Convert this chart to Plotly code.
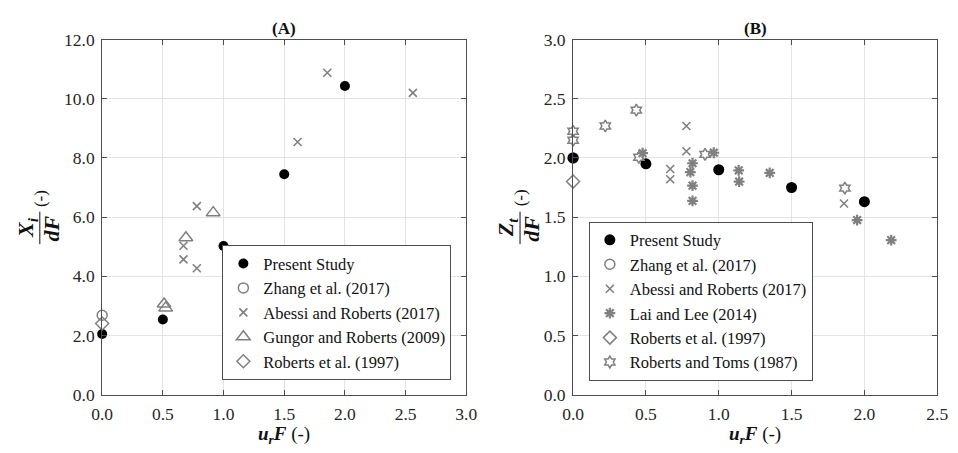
import plotly.graph_objects as go

W, H = 958, 453

# ---------------- Panel (A): X_i / dF against u_r F ----------------
a_present_x = [0.0, 0.5, 1.0, 1.5, 2.0]
a_present_y = [2.05, 2.54, 5.02, 7.45, 10.43]
a_zhang_x = [0.0]
a_zhang_y = [2.68]
a_abessi_x = [0.67, 0.67, 0.78, 0.78, 1.61, 1.855, 2.56]
a_abessi_y = [5.03, 4.57, 6.37, 4.27, 8.54, 10.88, 10.20]
a_gungor_x = [0.51, 0.523, 0.69, 0.915]
a_gungor_y = [3.06, 2.93, 5.30, 6.15]
a_roberts97_x = [0.0]
a_roberts97_y = [2.40]

# ---------------- Panel (B): Z_t / dF against u_r F ----------------
b_present_x = [0.0, 0.5, 1.0, 1.5, 2.0]
b_present_y = [2.00, 1.95, 1.90, 1.75, 1.63]
b_zhang_x = [0.0]
b_zhang_y = [2.00]
b_abessi_x = [0.667, 0.667, 0.778, 0.778, 1.86]
b_abessi_y = [1.906, 1.82, 2.27, 2.057, 1.615]
b_lai_x = [0.477, 0.82, 0.805, 0.82, 0.82, 0.966, 1.137, 1.14, 1.35, 1.95, 2.184]
b_lai_y = [2.04, 1.955, 1.88, 1.766, 1.637, 2.044, 1.895, 1.80, 1.874, 1.475, 1.305]
b_roberts97_x = [0.0]
b_roberts97_y = [1.80]
b_toms_x = [0.0, 0.0, 0.221, 0.434, 0.452, 0.906, 1.866]
b_toms_y = [2.226, 2.15, 2.27, 2.404, 2.005, 2.03, 1.745]

SERIF = "Liberation Serif"
GRAY = "#808080"
BLACK = "#000000"


def px(x):
    return x / W


def py(y):
    return 1 - y / H


def series(x, y, name, symbol, size, color, axis, legend, lw=1.5, rank=None):
    xa, ya = ("x", "y") if axis == 1 else ("x2", "y2")
    tr = go.Scatter(
        x=x, y=y, name=name, mode="markers",
        xaxis=xa, yaxis=ya, legend=legend, cliponaxis=False,
        marker=dict(symbol=symbol, size=size, color=color,
                    line=dict(color=color, width=lw)),
    )
    if rank is not None:
        tr.legendrank = rank
    return tr


fig = go.Figure()

# Panel A traces
fig.add_trace(series(a_present_x, a_present_y, "Present Study", "circle", 10, BLACK, 1, "legend", 0))
fig.add_trace(series(a_zhang_x, a_zhang_y, "Zhang et al. (2017)", "circle-open", 10, GRAY, 1, "legend"))
fig.add_trace(series(a_abessi_x, a_abessi_y, "Abessi and Roberts (2017)", "x-thin-open", 8, GRAY, 1, "legend", 1.6))
fig.add_trace(series(a_gungor_x, a_gungor_y, "Gungor and Roberts (2009)", "triangle-up-open", 12, GRAY, 1, "legend"))
fig.add_trace(series(a_roberts97_x, a_roberts97_y, "Roberts et al. (1997)", "diamond-open", 10, GRAY, 1, "legend"))

# Panel B traces (Zhang drawn first so the present-study dot sits on top)
fig.add_trace(series(b_zhang_x, b_zhang_y, "Zhang et al. (2017)", "circle-open", 10, GRAY, 2, "legend2", rank=2))
fig.add_trace(series(b_present_x, b_present_y, "Present Study", "circle", 11, BLACK, 2, "legend2", 0, rank=1))
fig.add_trace(series(b_abessi_x, b_abessi_y, "Abessi and Roberts (2017)", "x-thin-open", 8, GRAY, 2, "legend2", 1.6, rank=3))
fig.add_trace(series(b_lai_x, b_lai_y, "Lai and Lee (2014)", "asterisk-open", 9, GRAY, 2, "legend2", 2.2, rank=4))
fig.add_trace(series(b_roberts97_x, b_roberts97_y, "Roberts et al. (1997)", "diamond-open", 10, GRAY, 2, "legend2", rank=5))
fig.add_trace(series(b_toms_x, b_toms_y, "Roberts and Toms (1987)", "hexagram-open", 9, GRAY, 2, "legend2", rank=6))

# Plot-area pixel boxes
A_L, A_R = 93.3, 466.0
B_L, B_R = 575.3, 948.0
TOP, BOT = 31.0, 402.3

axis_common = dict(
    showline=True, linecolor="#4d4d4d", linewidth=1, mirror="ticks",
    ticks="inside", ticklen=5, tickcolor="#4d4d4d", tickwidth=1,
    showgrid=True, gridcolor="#e3e3e3", gridwidth=1, zeroline=False,
    tickfont=dict(family=SERIF, size=17.5, color="#262626"),
    tickformat=".1f", fixedrange=True,
)
xaxis_extra = dict(ticklabelstandoff=3)
yaxis_extra = dict(ticklabelstandoff=3)

legend_common = dict(
    xanchor="right", yanchor="bottom",
    bgcolor="white", bordercolor="#4d4d4d", borderwidth=1,
    font=dict(family=SERIF, size=16.5, color="#111"),
    tracegroupgap=0, traceorder="normal",
    itemclick=False, itemdoubleclick=False,
)

fig.update_layout(
    width=W, height=H, margin=dict(l=0, r=0, t=0, b=0),
    paper_bgcolor="white", plot_bgcolor="white",
    font=dict(family=SERIF, color="#262626"),
    xaxis=dict(domain=[px(A_L), px(A_R)], range=[0, 3], tick0=0, dtick=0.5,
               anchor="y", **axis_common, **xaxis_extra),
    yaxis=dict(domain=[py(BOT), py(TOP)], range=[0, 12], tick0=0, dtick=2,
               anchor="x", **axis_common, **yaxis_extra),
    xaxis2=dict(domain=[px(B_L), px(B_R)], range=[0, 2.5], tick0=0, dtick=0.5,
                anchor="y2", **axis_common, **xaxis_extra),
    yaxis2=dict(domain=[py(BOT), py(TOP)], range=[0, 3], tick0=0, dtick=0.5,
                anchor="x2", **axis_common, **yaxis_extra),
    legend=dict(x=px(450.7), y=py(387.3), **legend_common),
    legend2=dict(x=px(820.7), y=py(387.7), **legend_common),
    showlegend=True,
)

annotations = []
shapes = []


def text(x, y, s, size, angle=0, color="#111"):
    annotations.append(dict(
        x=px(x), y=py(y), xref="paper", yref="paper", text=s, showarrow=False,
        xanchor="center", yanchor="middle", textangle=angle,
        font=dict(family=SERIF, size=size, color=color),
    ))


# Panel titles
text((A_L + A_R) / 2, 19, "<b>(A)</b>", 17)
text((B_L + B_R) / 2, 19, "<b>(B)</b>", 17)

# x-axis titles
for cx in ((A_L + A_R) / 2, (B_L + B_R) / 2):
    text(cx, 445, "<b><i>u<sub>r</sub>F</i></b> (-)", 19)


# y-axis titles drawn as rotated fractions
def fraction(xline, num, den):
    text(xline - 13, 228, num, 22, -90)
    text(xline + 12, 229, den, 22, -90)
    text(xline, 197, "(-)", 17, -90)
    shapes.append(dict(type="line", xref="paper", yref="paper",
                       x0=px(xline), x1=px(xline), y0=py(211), y1=py(245),
                       line=dict(color="#111", width=1)))


fraction(29.5, "<b><i>X<sub>i</sub></i></b>", "<b><i>dF</i></b>")
fraction(521.0, "<b><i>Z<sub>t</sub></i></b>", "<b><i>dF</i></b>")

fig.update_layout(annotations=annotations, shapes=shapes)

fig.write_html("out.html")
